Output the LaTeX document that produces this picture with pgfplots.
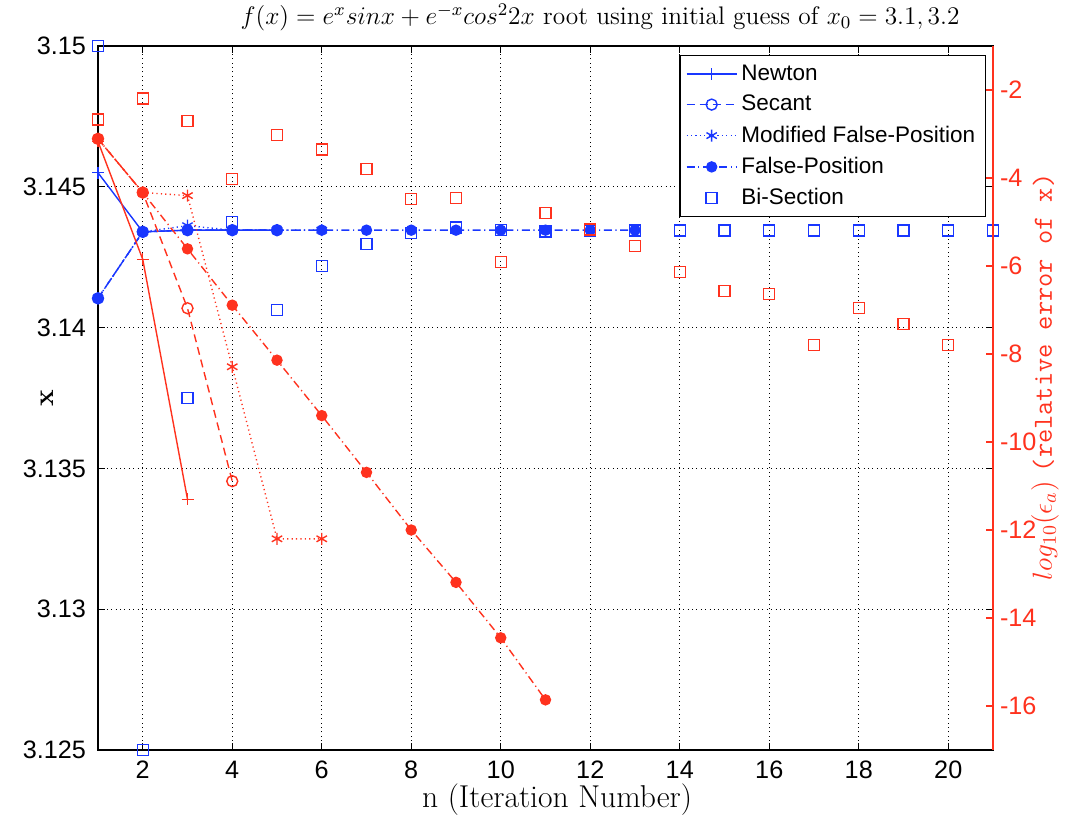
\RequirePackage{fix-cm}
\documentclass[border=0pt]{standalone}
\usepackage{fontspec}
\usepackage{pgfplots}
\pgfplotsset{compat=1.18}
\newfontfamily\ticks{Liberation Sans}
\definecolor{mblue}{RGB}{25,55,255}
\definecolor{mred}{RGB}{255,50,30}

\pgfplotstableread{
n x
1 3.15
2 3.125
3 3.1375
4 3.14375
5 3.140625
6 3.1421875
7 3.14296875
8 3.143359
9 3.143555
10 3.143457
11 3.143408
12 3.143433
13 3.143445
14 3.143451
15 3.143454
16 3.143452
17 3.143453
18 3.143453
19 3.143453
20 3.143453
21 3.143453
}\bisblue

\pgfplotstableread{
n e
1 -2.67
2 -2.19
3 -2.70
4 -4.02
5 -3.02
6 -3.35
7 -3.80
8 -4.48
9 -4.45
10 -5.91
11 -4.80
12 -5.17
13 -5.54
14 -6.13
15 -6.57
16 -6.64
17 -7.80
18 -6.95
19 -7.32
20 -7.80
}\bisred

\pgfplotsset{
  mydash/.style={dash pattern=on 4pt off 2.5pt},
  mydot/.style={dash pattern=on 0.6pt off 1.6pt},
  mydashdot/.style={dash pattern=on 4pt off 1.8pt on 0.6pt off 1.8pt},
}

\begin{document}
\begin{tikzpicture}
\begin{axis}[
  scale only axis, width=447.5pt, height=352pt,
  xmin=1, xmax=21, ymin=3.125, ymax=3.15,
  xtick={2,4,...,20}, xticklabels={2,4,6,8,10,12,14,16,18,20},
  ytick={3.125,3.13,3.135,3.14,3.145,3.15},
  yticklabels={3.125,3.13,3.135,3.14,3.145,3.15},
  tick align=inside, major tick length=3.5pt,
  xmajorgrids, ymajorgrids,
  grid style={black, line width=0.5pt, dash pattern=on 0.5pt off 1.7pt},
  axis line style={black, line width=0.6pt},
  every tick/.style={black, line width=0.6pt},
  tick label style={font=\ticks\fontsize{12.6}{15}\selectfont},
  yticklabel style={xshift=-2.5pt},
  xticklabel style={yshift=-2pt},
  clip=false,
  title={$f(x)=e^xsinx+e^{-x}cos^22x$ root using initial guess of $x_0=3.1,3.2$},
  title style={at={(axis description cs:0.561,1.041)}, anchor=center, yshift=-6pt, font=\fontsize{12.7}{14}\selectfont},
  xlabel={n (Iteration Number)},
  xlabel style={at={(axis description cs:0.513,-0.071)}, anchor=center, font=\fontsize{15.8}{18}\selectfont},
  ylabel={\textbf{x}},
  ylabel style={at={(axis description cs:-0.057,0.5)}, anchor=center, font=\fontsize{14}{16}\selectfont},
  legend style={at={(axis description cs:0.992,0.987)}, anchor=north east,
    draw=black, line width=0.6pt, fill=white, font=\ticks\fontsize{11.25}{13}\selectfont,
    cells={anchor=west}, row sep=2pt, inner xsep=3pt, inner ysep=2.5pt},
  legend image code/.code={\draw[mark repeat=2,mark phase=2,#1] plot coordinates {(0pt,0pt) (12.5pt,0pt) (25pt,0pt)};},
]
\addplot[mblue, line width=0.7pt, mark=+, mark size=3pt, mark options={solid}] coordinates {
(1,3.14550) (2,3.14340) (3,3.14346) (4,3.14346) (5,3.14346)};
\addlegendentry{Newton}
\addplot[mblue, line width=0.7pt, mydash, mark=o, mark size=2.75pt, mark options={solid}] coordinates {
(1,3.14104) (2,3.14340) (3,3.14346) (4,3.14346) (5,3.14346)};
\addlegendentry{Secant}
\addplot[mblue, line width=0.7pt, mydot, mark=asterisk, mark size=3pt, mark options={solid}] coordinates {
(1,3.14104) (2,3.14340) (3,3.14362) (4,3.14346) (5,3.14346) (6,3.14346)};
\addlegendentry{Modified False-Position}
\addplot[mblue, line width=0.7pt, mydashdot, mark=*, mark size=2.5pt, mark options={solid}] coordinates {
(1,3.14104) (2,3.14340) (3,3.14346) (4,3.14346) (5,3.14346) (6,3.14346) (7,3.14346) (8,3.14346) (9,3.14346) (10,3.14346) (11,3.14346) (12,3.14346) (13,3.14346)};
\addlegendentry{False-Position}
\addplot[mblue, only marks, line width=0.7pt, mark=square, mark size=2.75pt] table[x=n, y=x] {\bisblue};
\addlegendentry{Bi-Section}
\end{axis}

\begin{axis}[
  scale only axis, width=447.5pt, height=352pt,
  xmin=1, xmax=21, ymin=-17, ymax=-1,
  axis x line=none, axis y line*=right,
  ytick={-16,-14,-12,-10,-8,-6,-4,-2},
  yticklabels={-16,-14,-12,-10,-8,-6,-4,-2},
  tick align=inside, major tick length=3.5pt,
  y axis line style={mred, line width=0.6pt},
  every tick/.style={mred, line width=0.6pt},
  yticklabel style={mred, font=\ticks\fontsize{12.6}{15}\selectfont},
  clip=false,
  ylabel={$log_{10}(\epsilon_a)$ \texttt{(relative error of x)}},
  ylabel style={at={(axis description cs:1.058,0.53)}, anchor=center, mred, font=\fontsize{13.8}{16}\selectfont},
]
\addplot[mred, line width=0.7pt, mark=+, mark size=3pt, mark options={solid}] coordinates {
(1,-3.17) (2,-5.85) (3,-11.30)};
\addplot[mred, line width=0.7pt, mydash, mark=o, mark size=2.75pt, mark options={solid}] coordinates {
(1,-3.11) (2,-4.33) (3,-6.96) (4,-10.89)};
\addplot[mred, line width=0.7pt, mydot, mark=asterisk, mark size=3pt, mark options={solid}] coordinates {
(1,-3.11) (2,-4.33) (3,-4.40) (4,-8.29) (5,-12.20) (6,-12.20)};
\addplot[mred, line width=0.7pt, mydashdot, mark=*, mark size=2.5pt, mark options={solid}] coordinates {
(1,-3.11) (2,-4.33) (3,-5.61) (4,-6.89) (5,-8.14) (6,-9.40) (7,-10.69) (8,-12.00) (9,-13.19) (10,-14.45) (11,-15.86)};
\addplot[mred, only marks, line width=0.7pt, mark=square, mark size=2.75pt] table[x=n, y=e] {\bisred};
\end{axis}
\pgfresetboundingbox
\path[use as bounding box] (current axis.south west) ++(-49pt,-33pt) rectangle ([shift={(36pt,23pt)}]current axis.north east);
\end{tikzpicture}
\end{document}
